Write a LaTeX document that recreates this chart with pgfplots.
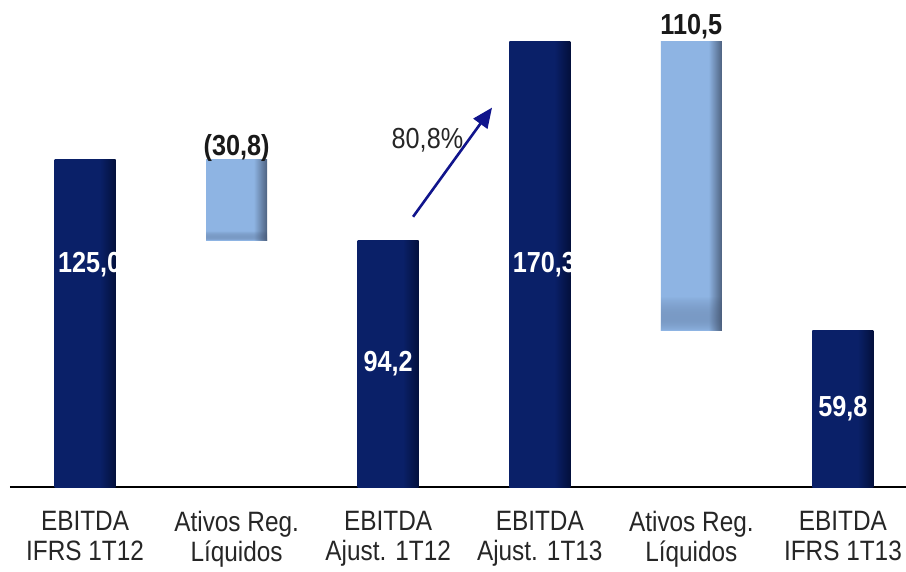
\documentclass[border=0pt]{standalone}
\usepackage{pgfplots}
\pgfplotsset{compat=1.18}
\usepackage{fontspec}
\setmainfont{Liberation Sans}[FakeStretch=0.87]
\usetikzlibrary{arrows.meta,fadings}

\definecolor{navy}{RGB}{10,32,104}
\definecolor{navydk}{RGB}{3,16,60}
\definecolor{lb}{RGB}{142,180,227}
\definecolor{lbdk}{RGB}{78,98,128}
\definecolor{shadow}{RGB}{62,78,108}
\definecolor{arrowblue}{RGB}{16,20,140}

\pgfdeclarehorizontalshading{darkbar}{100bp}{color(0bp)=(navy); color(25bp)=(navy); color(62bp)=(navy); color(75bp)=(navydk); color(100bp)=(navydk)}
\pgfdeclarehorizontalshading{lightbar}{100bp}{color(0bp)=(lb); color(25bp)=(lb); color(64bp)=(lb); color(75bp)=(lbdk); color(100bp)=(lbdk)}
\pgfdeclareverticalshading{bsh}{100bp}{color(0bp)=(pgftransparent!0); color(25bp)=(pgftransparent!0); color(27bp)=(pgftransparent!45); color(31bp)=(pgftransparent!100); color(100bp)=(pgftransparent!100)}
\pgfdeclarefading{bottomshadow}{\pgfuseshading{bsh}}

\newcommand{\val}{\fontsize{29}{30}\selectfont\bfseries}

\pgfplotsset{
  frame/.style={
    scale only axis,
    width=896pt, height=487pt,
    xmin=-0.495, xmax=5.416,
    ymin=0, ymax=186,
    bar width=61pt,
    clip=false,
  },
  overlay/.style={frame, hide axis, ybar stacked},
  light/.style={draw=none, shading=lightbar, postaction={fill=shadow, path fading=bottomshadow}},
}

\begin{document}
\begin{tikzpicture}
% main axis: EBITDA bars
\begin{axis}[
  frame,
  ybar, bar shift=0pt,
  axis y line=none,
  axis x line*=bottom,
  x axis line style={black, line width=1.3pt},
  major tick length=0pt,
  xtick={0,1,2,3,4,5},
  xticklabels={{EBITDA\\IFRS 1T12},{Ativos Reg.\\Líquidos},{EBITDA\\Ajust. 1T12},{EBITDA\\Ajust. 1T13},{Ativos Reg.\\Líquidos},{EBITDA\\IFRS 1T13}},
  xticklabel style={align=center, font=\fontsize{28}{30}\selectfont, inner sep=0pt, anchor=north, yshift=-24pt, text=black!85},
]
\addplot[draw=none, shading=darkbar] coordinates {(0,125.0)};
\addplot[draw=none, shading=darkbar] coordinates {(2,94.2)};
\addplot[draw=none, shading=darkbar] coordinates {(3,170.3)};
\addplot[draw=none, shading=darkbar] coordinates {(5,59.8)};
\coordinate (ll) at (rel axis cs:0,0);
\coordinate (ur) at (rel axis cs:1,1);
\end{axis}

% floating bar: Ativos Reg. Liquidos (1T12)
\begin{axis}[overlay]
\addplot[draw=none, fill=none] coordinates {(1,94.2)};
\addplot[light] coordinates {(1,30.8)};
\end{axis}

% floating bar: Ativos Reg. Liquidos (1T13), plus the labels on top
\begin{axis}[overlay]
\addplot[draw=none, fill=none] coordinates {(4,59.8)};
\addplot[light] coordinates {(4,110.5)};

\node[text=white, font=\val] at (axis cs:0.03,85) {125,0};
\node[text=white, font=\val] at (axis cs:3.03,85) {170,3};
\node[text=white, font=\val] at (axis cs:2,47) {94,2};
\node[text=white, font=\val] at (axis cs:5,29.8) {59,8};
\node[text=black!90, font=\val] at (axis cs:1,129.6) {(30,8)};
\node[text=black!90, font=\val] at (axis cs:4,175.8) {110,5};

\draw[arrowblue, line width=2.6pt, -{Triangle[length=20pt, width=17pt]}] (axis cs:2.164,103.2) -- (axis cs:2.685,144.9);
\node[text=black!85, font=\fontsize{29}{30}\selectfont] at (axis cs:2.259,132.3) {80,8\%};
\end{axis}
\pgfresetboundingbox
\path ([shift={(-10pt,-84pt)}]ll) rectangle (ur);
\end{tikzpicture}
\end{document}
